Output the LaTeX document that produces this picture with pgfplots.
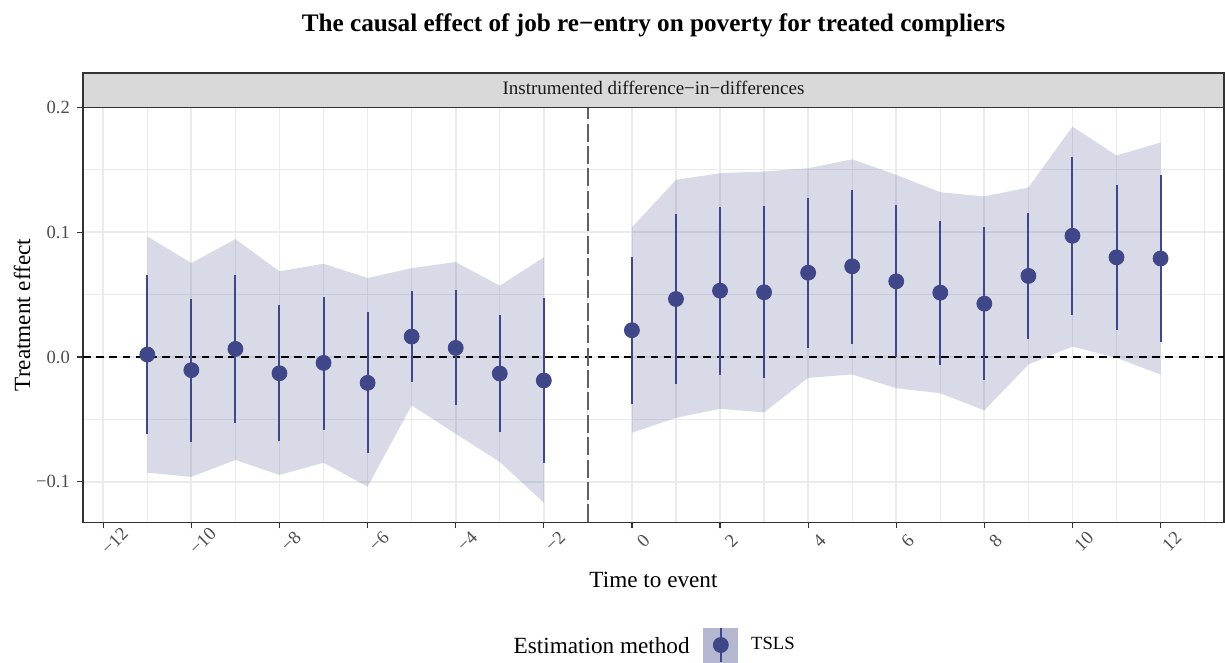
\documentclass[border=0pt]{standalone}
\usepackage{fontspec}
\setmainfont{Liberation Serif}
\usepackage{pgfplots}
\pgfplotsset{compat=1.18}
\usepgfplotslibrary{fillbetween}
\usepackage{pgfplotstable}
\definecolor{ptcol}{HTML}{404788}
\definecolor{gridc}{HTML}{EBEBEB}
\definecolor{framec}{HTML}{333333}
\definecolor{ticklab}{HTML}{4D4D4D}
\definecolor{stripfill}{HTML}{D9D9D9}
\definecolor{vlinec}{HTML}{616161}

\pgfplotstableread{
x y lo hi rlo rhi
-11 0.0020 -0.0615 0.0655 -0.0927 0.0967
-10 -0.0105 -0.0680 0.0468 -0.0960 0.0753
-9 0.0065 -0.0530 0.0655 -0.0825 0.0945
-8 -0.0130 -0.0676 0.0417 -0.0945 0.0687
-7 -0.0047 -0.0583 0.0484 -0.0847 0.0748
-6 -0.0207 -0.0772 0.0359 -0.1039 0.0633
-5 0.0164 -0.0204 0.0532 -0.0388 0.0713
-4 0.0073 -0.0388 0.0537 -0.0615 0.0761
-3 -0.0132 -0.0604 0.0337 -0.0841 0.0572
-2 -0.0188 -0.0850 0.0476 -0.1167 0.0799
}\pre
\pgfplotstableread{
x y lo hi rlo rhi
0 0.0215 -0.0375 0.0804 -0.0607 0.1039
1 0.0465 -0.0215 0.1148 -0.0487 0.1420
2 0.0532 -0.0143 0.1204 -0.0415 0.1473
3 0.0519 -0.0169 0.1207 -0.0444 0.1487
4 0.0676 0.0073 0.1273 -0.0167 0.1513
5 0.0727 0.0105 0.1340 -0.0140 0.1585
6 0.0607 0.0000 0.1217 -0.0250 0.1460
7 0.0516 -0.0060 0.1090 -0.0290 0.1321
8 0.0428 -0.0188 0.1041 -0.0428 0.1287
9 0.0650 0.0143 0.1156 -0.0060 0.1359
10 0.0972 0.0337 0.1601 0.0084 0.1847
11 0.0799 0.0217 0.1380 -0.0007 0.1615
12 0.0790 0.0124 0.1455 -0.0140 0.1719
}\post

\begin{document}
\begin{tikzpicture}
\begin{axis}[
  at={(41.5pt,68.75pt)}, anchor=south west,
  width=570.5pt, height=207.5pt, scale only axis,
  xmin=-12.46, xmax=13.44, ymin=-0.1326, ymax=0.2,
  xtick={-12,-10,...,12},
  xticklabels={−12,−10,−8,−6,−4,−2,0,2,4,6,8,10,12},
  minor xtick={-11,-9,...,13},
  ytick={-0.1,0,0.1,0.2},
  yticklabels={−0.1,0.0,0.1,0.2},
  minor ytick={-0.05,0.05,0.15},
  grid=both,
  major grid style={gridc, line width=0.9pt},
  minor grid style={gridc, line width=0.6pt},
  tick align=outside, major tick length=3pt, minor tick length=0pt,
  tick pos=left,
  major tick style={framec, line width=0.6pt},
  axis line style={framec, line width=0.55pt},
  xticklabel style={font=\fontsize{9.3}{11}\selectfont, text=ticklab, rotate=45, anchor=center, xshift=-0.5pt, yshift=-8.5pt},
  yticklabel style={font=\fontsize{9.3}{11}\selectfont, text=ticklab},
  xlabel={Time to event}, ylabel={Treatment effect},
  every axis x label/.style={at={(axis description cs:0.5,-0.1386)}, anchor=center, font=\fontsize{11.6}{13}\selectfont},
  every axis y label/.style={at={(axis description cs:-0.0535,0.5)}, rotate=90, anchor=center, font=\fontsize{11.6}{13}\selectfont},
  legend style={at={(axis description cs:0.5434,-0.2952)}, anchor=west, draw=none, fill=none,
    font=\fontsize{9.3}{11}\selectfont, inner sep=0pt, nodes={inner sep=0pt},
    /tikz/every odd column/.append style={column sep=6.5pt}},
]
% ribbons
\addplot[name path=u1, draw=none, forget plot] table[x=x, y=rhi] {\pre};
\addplot[name path=l1, draw=none, forget plot] table[x=x, y=rlo] {\pre};
\addplot[fill=ptcol, fill opacity=0.2, draw=none, forget plot] fill between[of=u1 and l1];
\addplot[name path=u2, draw=none, forget plot] table[x=x, y=rhi] {\post};
\addplot[name path=l2, draw=none, forget plot] table[x=x, y=rlo] {\post};
\addplot[fill=ptcol, fill opacity=0.2, draw=none, forget plot] fill between[of=u2 and l2];
% reference lines
\addplot[black, line width=0.9pt, dash pattern=on 3.8pt off 2.8pt, forget plot] coordinates {(-12.46,0) (13.44,0)};
\addplot[vlinec, line width=0.9pt, dash pattern=on 9pt off 2.2pt, forget plot] coordinates {(-1,-0.1326) (-1,0.2)};
% estimates
\addplot[only marks, mark=*, mark size=3.75pt, color=ptcol, forget plot,
  error bars/.cd, y dir=both, y explicit, error mark=none,
  error bar style={line width=1pt, ptcol}]
  table[x=x, y=y, y error plus expr=\thisrow{hi}-\thisrow{y}, y error minus expr=\thisrow{y}-\thisrow{lo}] {\pre};
\addplot[only marks, mark=*, mark size=3.75pt, color=ptcol,
  legend image code/.code={
  \fill[ptcol!39] (0pt,-8.5pt) rectangle (17pt,8.5pt);
  \draw[ptcol, line width=1pt] (8.5pt,-8.5pt) -- (8.5pt,8.5pt);
  \fill[ptcol] (8.5pt,0pt) circle (3.75pt);},
  error bars/.cd, y dir=both, y explicit, error mark=none,
  error bar style={line width=1pt, ptcol}]
  table[x=x, y=y, y error plus expr=\thisrow{hi}-\thisrow{y}, y error minus expr=\thisrow{y}-\thisrow{lo}] {\post};
\addlegendentry{TSLS}
\end{axis}
% strip
\draw[framec, fill=stripfill, line width=0.55pt] (41.5pt,276.25pt) rectangle (612pt,293.5pt);
\node[anchor=base, text=black!90, font=\fontsize{9.5}{11}\selectfont] at (326.75pt,282.6pt) {Instrumented difference−in−differences};
% title
\node[anchor=base, font=\fontsize{12.6}{15}\selectfont\bfseries] at (326.75pt,314.15pt) {The causal effect of job re−entry on poverty for treated compliers};
% legend title
\node[anchor=base east, inner sep=0pt, font=\fontsize{11.6}{13}\selectfont] at (345pt,3.4pt) {Estimation method};
\useasboundingbox (0,0) rectangle (612.5pt,330pt);
\end{tikzpicture}
\end{document}
